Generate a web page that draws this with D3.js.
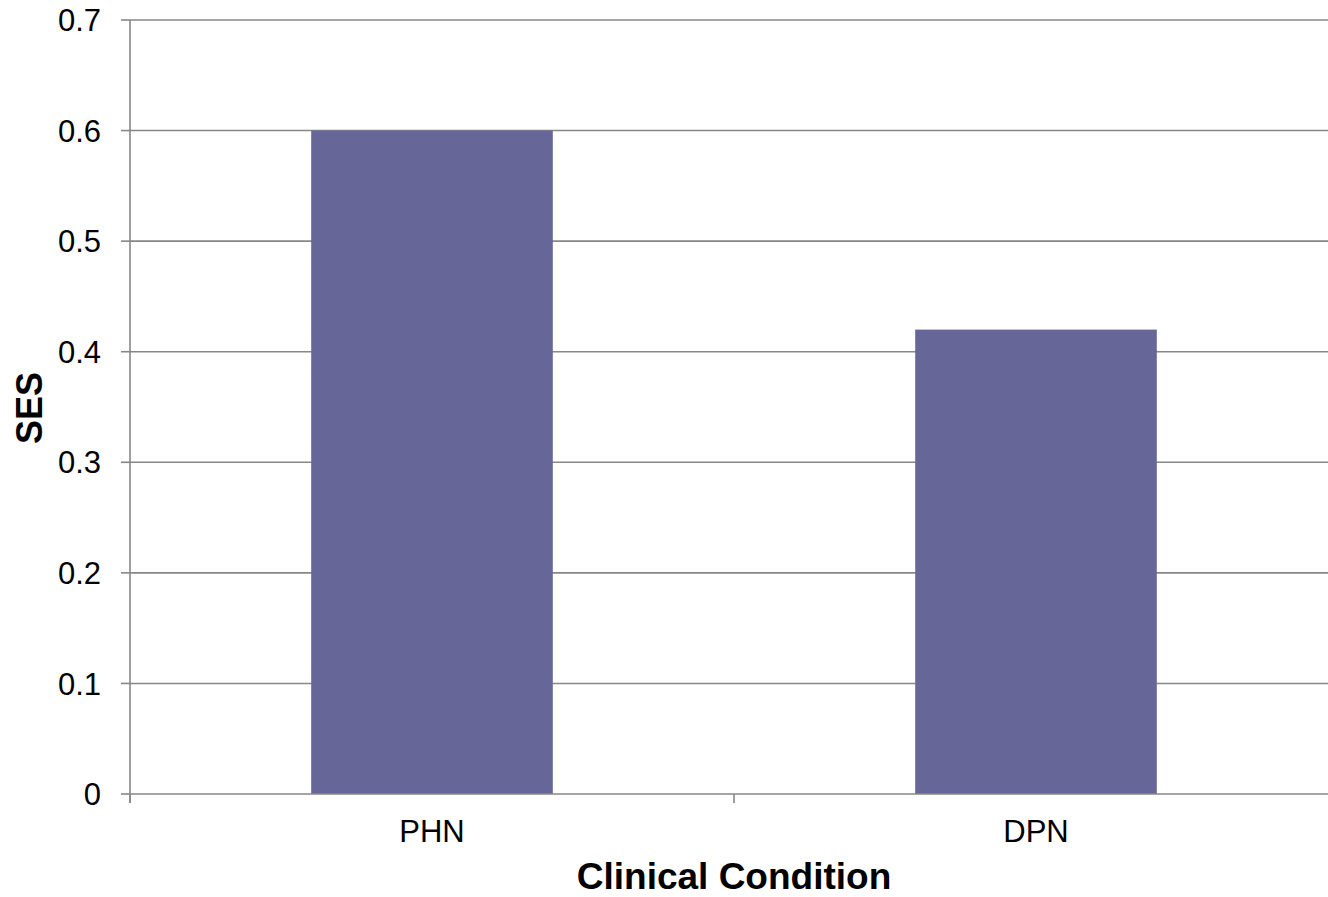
<!DOCTYPE html>
<html>
<head>
<meta charset="utf-8">
<script src="https://cdn.jsdelivr.net/npm/d3@7"></script>
<style>
  html, body { margin: 0; padding: 0; background: #fff; }
  svg { display: block; font-family: "Liberation Sans", Arial, sans-serif; }
</style>
</head>
<body>
<svg id="chart" width="1328" height="897"></svg>
<script>
// Standardized effect size by clinical condition
const categories = ["PHN", "DPN"];
const sesValues = [0.6, 0.42];
const yTicks = [0, 0.1, 0.2, 0.3, 0.4, 0.5, 0.6, 0.7];
const yTickLabels = ["0", "0.1", "0.2", "0.3", "0.4", "0.5", "0.6", "0.7"];

const svg = d3.select("#chart");
const plot = { left: 130, right: 1338, top: 20, bottom: 794 };
const gridColor = "#878787";
const barColor = "#666699";

const x = d3.scaleBand()
  .domain(categories)
  .range([plot.left, plot.right])
  .paddingInner(0.6)
  .paddingOuter(0.3);

const y = d3.scaleLinear().domain([0, 0.7]).range([plot.bottom, plot.top]);

// horizontal gridlines
svg.append("g")
  .selectAll("line")
  .data(yTicks.slice(1))
  .join("line")
  .attr("x1", plot.left).attr("x2", plot.right)
  .attr("y1", d => y(d)).attr("y2", d => y(d))
  .attr("stroke", gridColor).attr("stroke-width", 1.6);

// bars
svg.append("g")
  .selectAll("rect")
  .data(categories.map((c, i) => ({ c, v: sesValues[i] })))
  .join("rect")
  .attr("x", d => x(d.c))
  .attr("width", x.bandwidth())
  .attr("y", d => y(d.v))
  .attr("height", d => y(0) - y(d.v))
  .attr("fill", barColor);

// y axis
const yAxis = svg.append("g");
yAxis.append("line")
  .attr("x1", plot.left).attr("x2", plot.left)
  .attr("y1", plot.top).attr("y2", plot.bottom + 9)
  .attr("stroke", gridColor).attr("stroke-width", 1.6);
yAxis.selectAll("line.tick")
  .data(yTicks)
  .join("line").attr("class", "tick")
  .attr("x1", plot.left - 9).attr("x2", plot.left)
  .attr("y1", d => y(d)).attr("y2", d => y(d))
  .attr("stroke", gridColor).attr("stroke-width", 1.6);
yAxis.selectAll("text")
  .data(yTicks)
  .join("text")
  .attr("x", 101)
  .attr("y", d => y(d))
  .attr("dy", "0.36em")
  .attr("text-anchor", "end")
  .attr("font-size", 31)
  .attr("fill", "#000")
  .text((d, i) => yTickLabels[i]);

// x axis
const xAxis = svg.append("g");
xAxis.append("line")
  .attr("x1", plot.left).attr("x2", plot.right)
  .attr("y1", plot.bottom).attr("y2", plot.bottom)
  .attr("stroke", gridColor).attr("stroke-width", 1.6);
const step = x.step();
const boundaries = [x(categories[0]) + x.bandwidth() / 2 - step / 2]
  .concat(categories.map(c => x(c) + x.bandwidth() / 2 + step / 2));
xAxis.selectAll("line.tick")
  .data(boundaries)
  .join("line").attr("class", "tick")
  .attr("x1", d => d).attr("x2", d => d)
  .attr("y1", plot.bottom).attr("y2", plot.bottom + 9)
  .attr("stroke", gridColor).attr("stroke-width", 1.6);
xAxis.selectAll("text")
  .data(categories)
  .join("text")
  .attr("x", d => x(d) + x.bandwidth() / 2)
  .attr("y", 842)
  .attr("text-anchor", "middle")
  .attr("font-size", 31)
  .attr("fill", "#000")
  .text(d => d);

// axis titles
svg.append("text")
  .attr("x", (plot.left + plot.right) / 2)
  .attr("y", 889)
  .attr("text-anchor", "middle")
  .attr("font-size", 37)
  .attr("font-weight", "bold")
  .attr("fill", "#000")
  .text("Clinical Condition");

svg.append("text")
  .attr("transform", `translate(42, ${(plot.top + plot.bottom) / 2 + 1}) rotate(-90)`)
  .attr("text-anchor", "middle")
  .attr("font-size", 36)
  .attr("font-weight", "bold")
  .attr("fill", "#000")
  .text("SES");
</script>
</body>
</html>
